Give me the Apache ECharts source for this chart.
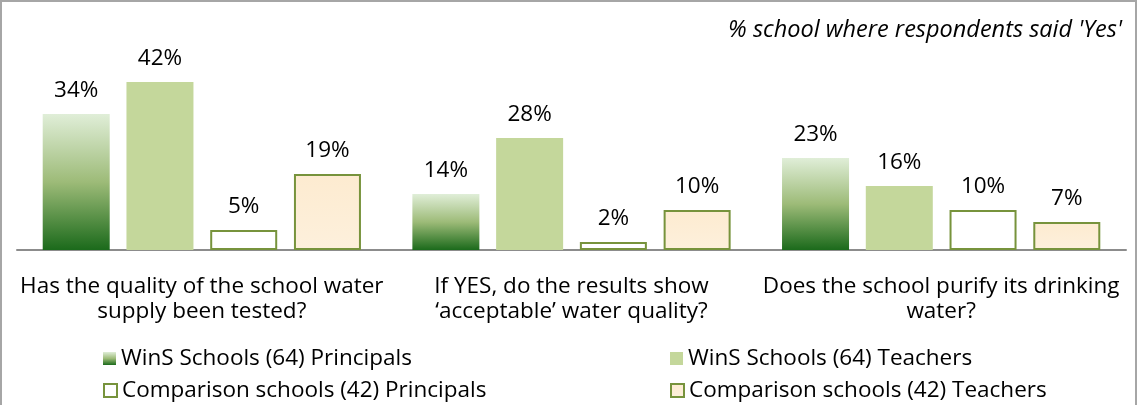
<!DOCTYPE html>
<html>
<head>
<meta charset="utf-8">
<script src="https://cdn.jsdelivr.net/npm/echarts@6/dist/echarts.min.js"></script>
<style>
  html, body { margin: 0; padding: 0; background: #fff; }
  #chart { width: 1137px; height: 405px; box-sizing: border-box; border: 2px solid #a6a6a6; border-bottom: none; }
</style>
</head>
<body>
<div id="chart"></div>
<script>
// data
const categories = [
  'Has the quality of the school water\nsupply been tested?',
  'If YES, do the results show\n\u2018acceptable\u2019 water quality?',
  'Does the school purify its drinking\nwater?'
]
const winsPrincipals = [34, 14, 23]
const winsTeachers = [42, 28, 16]
const compPrincipals = [5, 2, 10]
const compTeachers = [19, 10, 7]
const seriesNames = [
  'WinS Schools (64) Principals',
  'WinS Schools (64) Teachers',
  'Comparison schools (42) Principals',
  'Comparison schools (42) Teachers'
]

const font = 'Open Sans'
const fs = 22.5
const green = '#77933c'
const greenGrad = new echarts.graphic.LinearGradient(0, 0, 0, 1, [
  { offset: 0, color: '#e0eed8' },
  { offset: 0.5, color: '#9dbb78' },
  { offset: 1, color: '#1b6a1b' }
])
const peachGrad = new echarts.graphic.LinearGradient(0, 0, 0, 1, [
  { offset: 0, color: '#fdebd0' },
  { offset: 1, color: '#fdf0dc' }
])

const label = {
  show: true,
  position: 'top',
  distance: 12,
  fontFamily: font,
  fontSize: fs,
  color: '#000',
  formatter: '{c}%'
}

function legendAt(name, left, top) {
  return {
    data: [name],
    left: left,
    top: top,
    itemWidth: 13,
    itemHeight: 13,
    itemGap: 4,
    icon: 'rect',
    textStyle: { fontFamily: font, fontSize: fs, color: '#000' },
    selectedMode: false
  }
}

const chart = echarts.init(document.getElementById('chart'))
chart.setOption({
  animation: false,
  title: {
    text: "% school where respondents said 'Yes'",
    right: 8,
    top: 12,
    textStyle: { fontFamily: font, fontSize: 23.5, fontStyle: 'italic', fontWeight: 'normal', color: '#000' }
  },
  legend: [
    legendAt(seriesNames[0], 96, 340),
    legendAt(seriesNames[1], 663, 340),
    legendAt(seriesNames[2], 96, 372),
    legendAt(seriesNames[3], 663, 372)
  ],
  grid: { left: 15, right: 9, top: 48, bottom: 155 },
  xAxis: {
    type: 'category',
    data: categories,
    axisLine: { lineStyle: { color: '#8c8c8c', width: 2 } },
    axisTick: { show: false },
    axisLabel: {
      fontFamily: font,
      fontSize: fs,
      color: '#000',
      lineHeight: 25,
      margin: 24,
      interval: 0
    }
  },
  yAxis: {
    type: 'value',
    min: 0,
    max: 50,
    show: false
  },
  series: [
    {
      name: seriesNames[0],
      type: 'bar',
      data: winsPrincipals,
      barWidth: 67,
      barGap: '25%',
      itemStyle: { color: greenGrad },
      label: label
    },
    {
      name: seriesNames[1],
      type: 'bar',
      data: winsTeachers,
      barWidth: 67,
      barGap: '25%',
      itemStyle: { color: '#c4d79b' },
      label: label
    },
    {
      name: seriesNames[2],
      type: 'bar',
      data: compPrincipals,
      barWidth: 67,
      barGap: '25%',
      itemStyle: { color: '#ffffff', borderColor: green, borderWidth: 2 },
      label: label
    },
    {
      name: seriesNames[3],
      type: 'bar',
      data: compTeachers,
      barWidth: 67,
      barGap: '25%',
      itemStyle: { color: peachGrad, borderColor: green, borderWidth: 2 },
      label: label
    }
  ]
})
</script>
</body>
</html>
